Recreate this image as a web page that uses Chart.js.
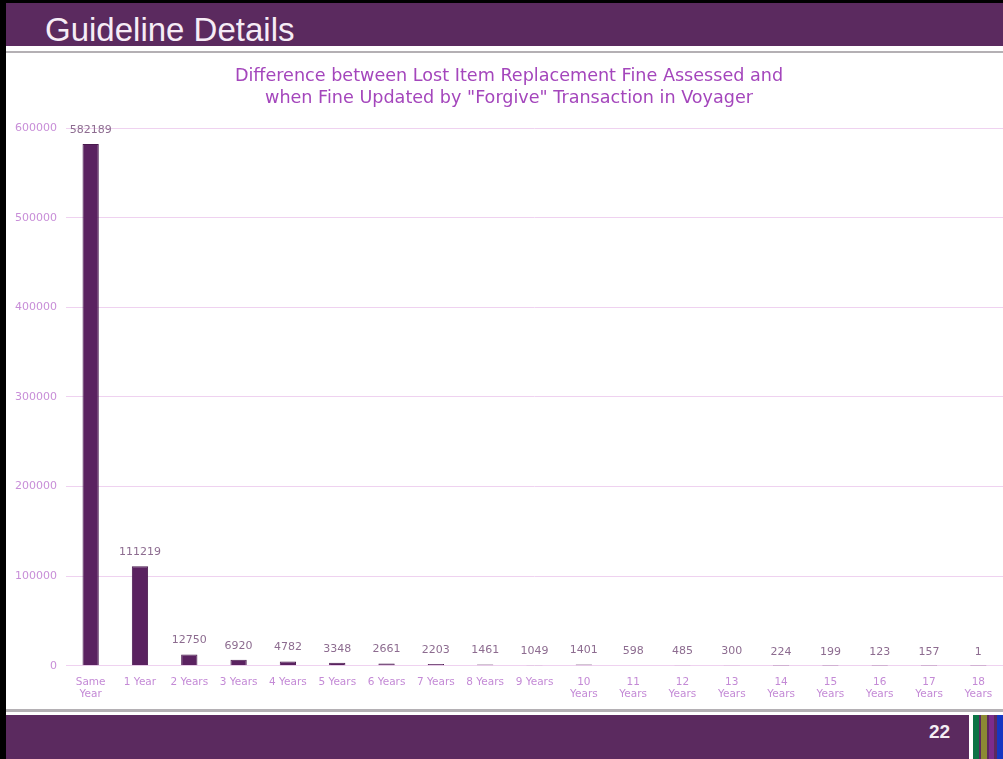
<!DOCTYPE html>
<html>
<head>
<meta charset="utf-8">
<title>Guideline Details</title>
<script src="https://cdn.jsdelivr.net/npm/chart.js@4/dist/chart.umd.min.js"></script>
<style>
  html, body { margin: 0; padding: 0; background: #fff; }
  body { width: 1003px; height: 759px; position: relative; overflow: hidden; font-family: "Liberation Sans", Arial, sans-serif; }
  .frame-left { position: absolute; left: 0; top: 0; width: 6px; height: 759px; background: #000; }
  .frame-top { position: absolute; left: 0; top: 0; width: 1003px; height: 3px; background: #000; }
  .header { position: absolute; left: 6px; top: 3px; width: 997px; height: 43px; background: #5b2a5f; }
  .header h1 { margin: 0; position: absolute; left: 39px; top: 9px; font-size: 33px; font-weight: normal; color: #f6ecf6; line-height: 36px; }
  .rule-top { position: absolute; left: 6px; top: 51px; width: 997px; height: 2px; background: #b4b0b4; }
  .rule-bottom { position: absolute; left: 6px; top: 709px; width: 997px; height: 3px; background: #b4b0b4; }
  .footer { position: absolute; left: 6px; top: 715px; width: 997px; height: 44px; background: #5b2a5f; }
  .page { position: absolute; left: 929px; top: 722px; font-size: 19px; line-height: 20px; color: #f4eef4; font-weight: bold; }
  .stripe { position: absolute; top: 715px; height: 44px; }
  #wrap { position: absolute; left: 6px; top: 55px; width: 997px; height: 655px; }
</style>
</head>
<body>
<div class="frame-left"></div>
<div class="frame-top"></div>
<div class="header"><h1>Guideline Details</h1></div>
<div class="rule-top"></div>
<div id="wrap"><canvas id="fine-chart"></canvas></div>
<div class="rule-bottom"></div>
<div class="footer"></div>
<div class="page">22</div>
<div class="stripe" style="left:969px;width:4px;background:#fff;"></div>
<div class="stripe" style="left:973px;width:6px;background:#0b7345;"></div>
<div class="stripe" style="left:981px;width:6px;background:#8c8a34;"></div>
<div class="stripe" style="left:989px;width:5px;background:#7b2c8c;"></div>
<div class="stripe" style="left:997px;width:6px;background:#1536c2;"></div>

<script>
// Years between fine assessed and "forgive" transaction
const categorias = [
    ['Same', 'Year'], '1 Year', '2 Years', '3 Years', '4 Years', '5 Years',
    '6 Years', '7 Years', '8 Years', '9 Years', ['10', 'Years'], ['11', 'Years'],
    ['12', 'Years'], ['13', 'Years'], ['14', 'Years'], ['15', 'Years'],
    ['16', 'Years'], ['17', 'Years'], ['18', 'Years']
];

const cantidades = [582189, 111219, 12750, 6920, 4782, 3348, 2661, 2203, 1461,
    1049, 1401, 598, 485, 300, 224, 199, 123, 157, 1];

const tituloGrafico = [
    'Difference between Lost Item Replacement Fine Assessed and',
    'when Fine Updated by "Forgive" Transaction in Voyager'
];

const ejeY = { min: 0, max: 600000, paso: 100000 };

const fuente = '"DejaVu Sans", Verdana, sans-serif';

// Etiquetas de valor encima de cada barra
const etiquetasBarras = {
    id: 'etiquetasBarras',
    afterDatasetsDraw(chart) {
        const ctx = chart.ctx;
        const meta = chart.getDatasetMeta(0);
        ctx.save();
        ctx.font = '11px ' + fuente;
        ctx.fillStyle = '#8d6c90';
        ctx.textAlign = 'center';
        ctx.textBaseline = 'middle';
        meta.data.forEach((bar, i) => {
            ctx.fillText(String(cantidades[i]), bar.x, bar.y - 14);
        });
        ctx.restore();
    }
};

const ctx = document.getElementById('fine-chart').getContext('2d');
new Chart(ctx, {
    type: 'bar',
    data: {
        labels: categorias,
        datasets: [{
            label: 'Fines',
            data: cantidades,
            backgroundColor: '#5a2260',
            borderColor: '#4a1a4e',
            borderWidth: 1,
            barPercentage: 0.33,
            categoryPercentage: 1
        }]
    },
    options: {
        responsive: true,
        maintainAspectRatio: false,
        animation: false,
        layout: { padding: { left: 9, right: 0, bottom: 8 } },
        plugins: {
            legend: { display: false },
            tooltip: { enabled: false },
            title: {
                display: true,
                text: tituloGrafico,
                color: '#a446bc',
                font: { family: fuente, size: 17.6, weight: 'normal', lineHeight: 1.25 },
                padding: { top: 10, bottom: 19 }
            }
        },
        scales: {
            x: {
                grid: { display: false },
                border: { display: false },
                ticks: {
                    color: '#c48ad6',
                    font: { family: fuente, size: 10.5, lineHeight: 1.15 },
                    maxRotation: 0,
                    autoSkip: false,
                    padding: 2
                }
            },
            y: {
                min: ejeY.min,
                max: ejeY.max,
                grid: { color: '#efd2f0', drawTicks: false },
                border: { display: false },
                // ancho fijo: etiqueta + separación
                afterFit: (scale) => { scale.width = 51; },
                ticks: {
                    stepSize: ejeY.paso,
                    color: '#c88ed8',
                    font: { family: fuente, size: 11 },
                    padding: 9,
                    callback: (v) => String(v)
                }
            }
        }
    },
    plugins: [etiquetasBarras]
});
</script>
</body>
</html>
